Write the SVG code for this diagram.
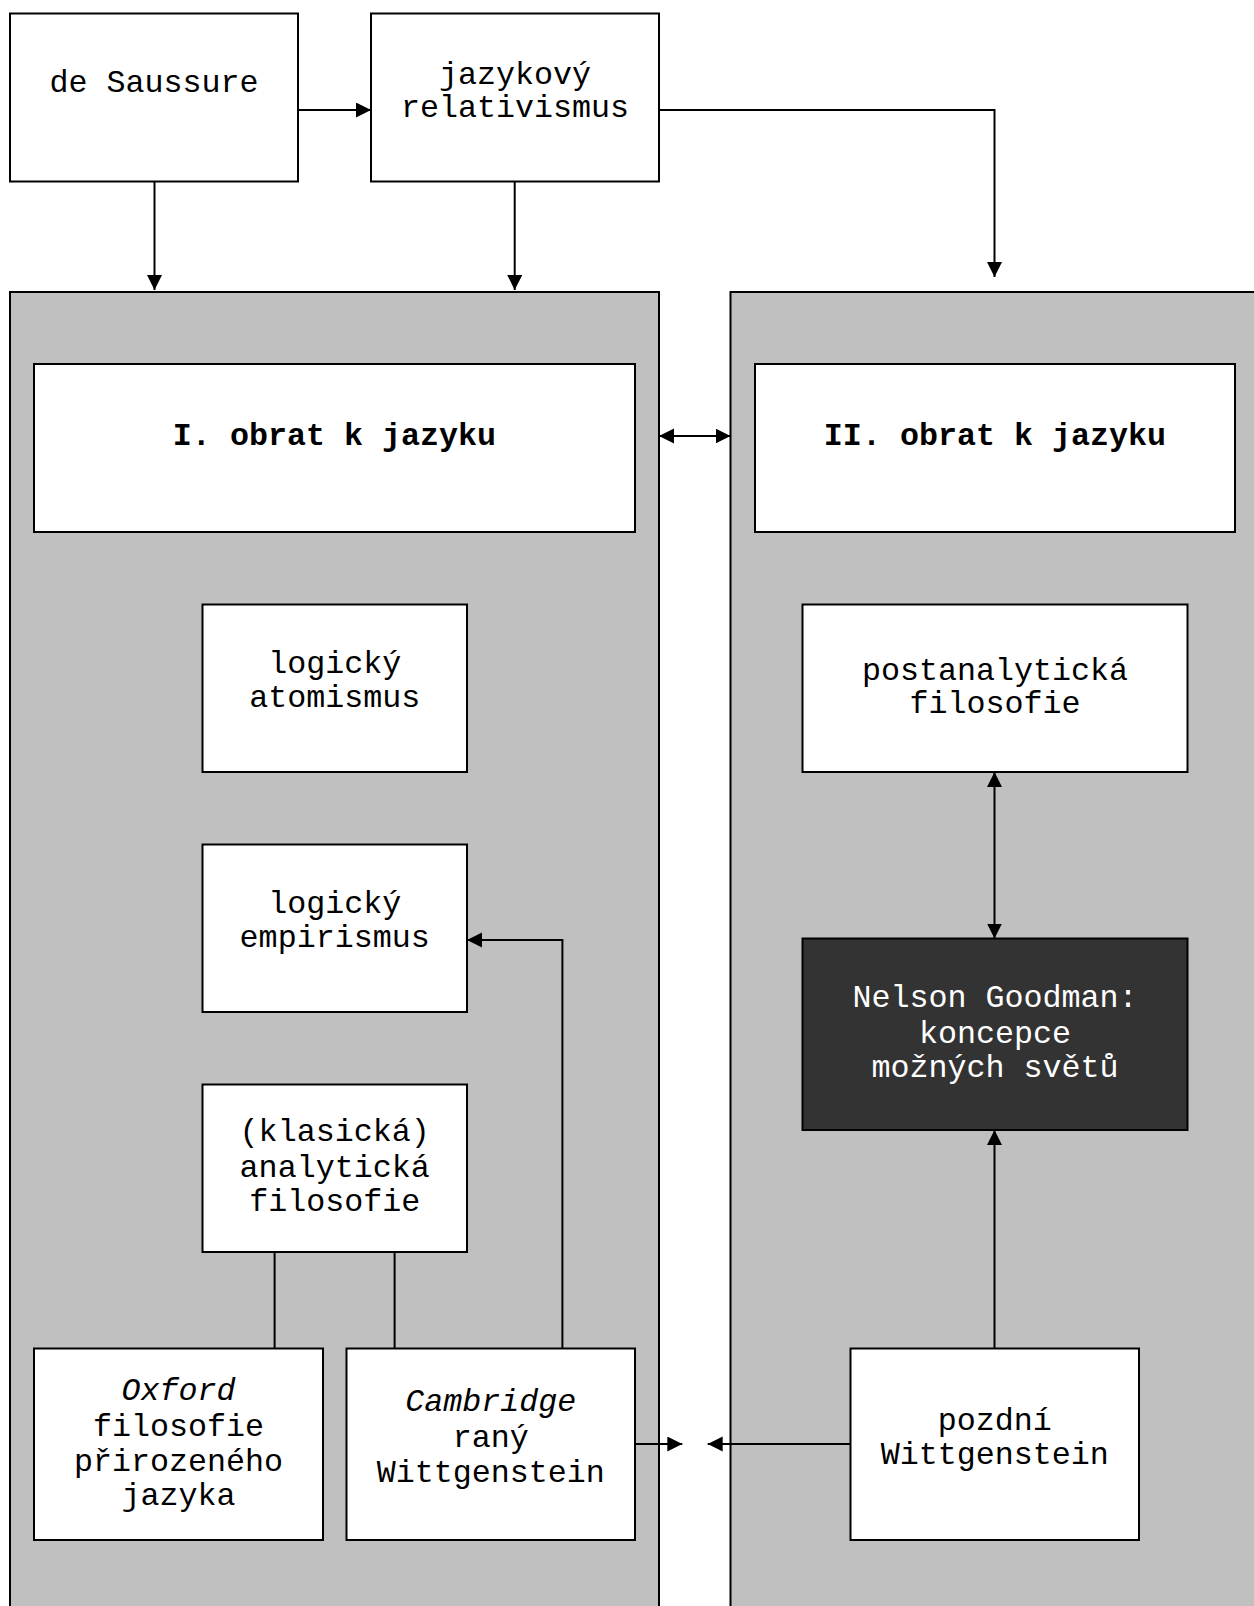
<svg xmlns="http://www.w3.org/2000/svg" width="1254" height="1606" viewBox="0 0 1254 1606">
<style>
.panel{fill:#c0c0c0;stroke:#000;stroke-width:2}
.box{fill:#fff;stroke:#000;stroke-width:2}
.dark{fill:#333;stroke:#000;stroke-width:2}
text{font-family:"Liberation Mono","Courier New",monospace;font-size:31.7px;fill:#000;text-anchor:middle}
.b{font-weight:bold}
.i{font-style:italic}
.w{fill:#fff}
.conn path{fill:none;stroke:#000;stroke-width:2}
</style>
<defs>
<marker id="ah" markerUnits="userSpaceOnUse" markerWidth="16" markerHeight="16" refX="15" refY="7.5" orient="auto-start-reverse">
<path d="M0,0 L15,7.5 L0,15 z" fill="#000"/>
</marker>
</defs>
<rect width="1254" height="1606" fill="#fff"/>
<g id="panel-left"><rect class="panel" x="10" y="292" width="649" height="1340"/></g>
<g id="panel-right"><rect class="panel" x="730.5" y="292" width="540" height="1340"/></g>

<g id="saussure"><rect class="box" x="10" y="13.5" width="288" height="168"/><text x="154" y="91.5">de Saussure</text></g>
<g id="relativismus"><rect class="box" x="371" y="13.5" width="288" height="168"/><text x="515" y="83.5">jazykový</text><text x="515" y="116.5">relativismus</text></g>

<g id="obrat1"><rect class="box" x="34" y="364" width="601" height="168"/><text class="b" x="334.5" y="445">I. obrat k jazyku</text></g>
<g id="obrat2"><rect class="box" x="755" y="364" width="480" height="168"/><text class="b" x="995" y="445">II. obrat k jazyku</text></g>

<g id="atomismus"><rect class="box" x="202.5" y="604.5" width="264.5" height="167.5"/><text x="334.7" y="672.5">logický</text><text x="334.7" y="706.5">atomismus</text></g>
<g id="empirismus"><rect class="box" x="202.5" y="844.5" width="264.5" height="167.5"/><text x="334.7" y="912.5">logický</text><text x="334.7" y="947">empirismus</text></g>
<g id="analyticka"><rect class="box" x="202.5" y="1084.5" width="264.5" height="167.5"/><text x="334.7" y="1141">(klasická)</text><text x="334.7" y="1176.5">analytická</text><text x="334.7" y="1211">filosofie</text></g>

<g id="oxford"><rect class="box" x="34" y="1348.5" width="289" height="191.5"/><text class="i" x="178.5" y="1400">Oxford</text><text x="178.5" y="1435.5">filosofie</text><text x="178.5" y="1471">přirozeného</text><text x="178.5" y="1505">jazyka</text></g>
<g id="cambridge"><rect class="box" x="346.5" y="1348.5" width="288.5" height="191.5"/><text class="i" x="490.8" y="1411">Cambridge</text><text x="490.8" y="1446.5">raný</text><text x="490.8" y="1481.5">Wittgenstein</text></g>

<g id="postanalyticka"><rect class="box" x="802.5" y="604.5" width="385" height="167.5"/><text x="995" y="679.5">postanalytická</text><text x="995" y="713">filosofie</text></g>
<g id="goodman"><rect class="dark" x="802.5" y="938.5" width="385" height="191.5"/><text class="w" x="995" y="1007">Nelson Goodman:</text><text class="w" x="995" y="1042.5">koncepce</text><text class="w" x="995" y="1076.5">možných světů</text></g>
<g id="pozdni"><rect class="box" x="850.5" y="1348.5" width="288.5" height="191.5"/><text x="994.8" y="1430">pozdní</text><text x="994.8" y="1463.5">Wittgenstein</text></g>

<g id="connectors" class="conn">
<path d="M298,110 H371" marker-end="url(#ah)"/>
<path d="M659,110 H994.5 V277" marker-end="url(#ah)"/>
<path d="M154.5,181.5 V290" marker-end="url(#ah)"/>
<path d="M514.7,181.5 V290" marker-end="url(#ah)"/>
<path d="M659,436 H730.5" marker-start="url(#ah)" marker-end="url(#ah)"/>
<path d="M994.5,772 V938.5" marker-start="url(#ah)" marker-end="url(#ah)"/>
<path d="M994.5,1348.5 V1130" marker-end="url(#ah)"/>
<path d="M635,1444 H682.3" marker-end="url(#ah)"/>
<path d="M850.5,1444 H707.7" marker-end="url(#ah)"/>
<path d="M274.6,1252 V1348.5"/>
<path d="M394.6,1252 V1348.5"/>
<path d="M562.4,1348.5 V940 H467" marker-end="url(#ah)"/>
</g>
</svg>
